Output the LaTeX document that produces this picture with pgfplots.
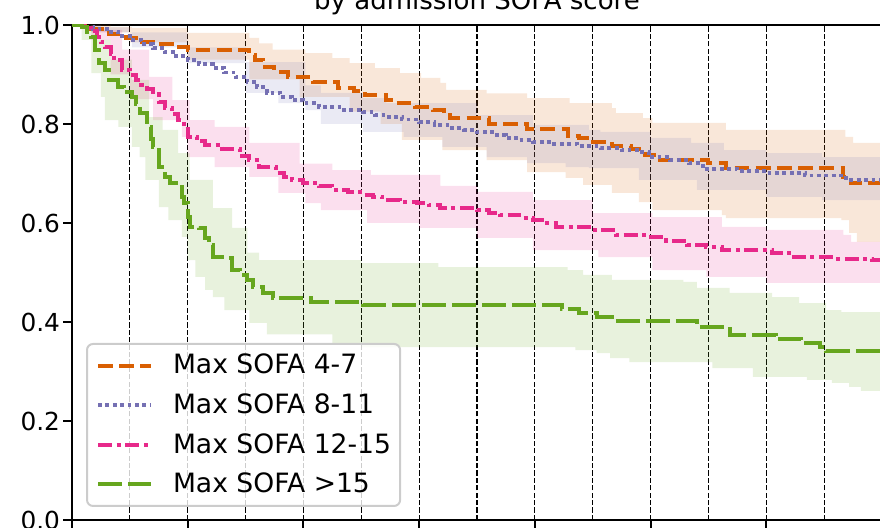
\documentclass[border=0pt]{standalone}
\usepackage{fontspec}
\setmainfont{DejaVu Sans}
\usepackage{pgfplots}
\usepackage{pgfplotstable}
\pgfplotsset{compat=1.18}
\usepgfplotslibrary{fillbetween}

\definecolor{cOr}{HTML}{D95F02}
\definecolor{cBl}{HTML}{7570B3}
\definecolor{cPk}{HTML}{E7298A}
\definecolor{cGr}{HTML}{66A61E}

% survival curves (days, S)
\pgfplotstableread{
t s
0 1.000
10 0.992
19 0.982
28 0.974
35 0.966
42 0.962
52 0.956
60 0.950
92 0.940
95 0.930
99 0.915
105 0.905
112 0.895
125 0.885
138 0.872
146 0.866
152 0.859
163 0.848
168 0.842
178 0.834
187 0.828
193 0.818
196 0.812
216 0.800
236 0.790
257 0.776
263 0.772
268 0.764
280 0.756
290 0.750
297 0.737
302 0.727
330 0.722
339 0.711
400 0.693
404 0.681
420 0.673
}\orS
\pgfplotstableread{
t s
0 1.000
20 0.996
31 0.994
60 0.984
92 0.974
97 0.963
104 0.950
121 0.943
135 0.933
144 0.923
157 0.913
170 0.903
181 0.893
191 0.883
194 0.869
215 0.862
236 0.852
258 0.842
280 0.832
282 0.822
296 0.812
301 0.802
339 0.788
401 0.774
405 0.762
420 0.762
}\orU
\pgfplotstableread{
t s
0 1.000
10 0.985
30 0.965
60 0.930
92 0.890
118 0.855
144 0.825
160 0.800
171 0.768
192 0.747
215 0.727
236 0.703
256 0.691
265 0.677
280 0.661
294 0.642
301 0.626
337 0.616
339 0.610
399 0.606
403 0.580
407 0.562
420 0.562
}\orL

\pgfplotstableread{
t s
0 1.000
5 0.997
11 0.992
18 0.986
24 0.978
30 0.970
36 0.962
42 0.954
48 0.946
54 0.937
60 0.929
66 0.921
73 0.913
79 0.904
85 0.895
91 0.885
96 0.874
101 0.863
108 0.855
114 0.848
120 0.842
128 0.834
140 0.828
151 0.824
157 0.818
163 0.814
171 0.809
180 0.804
188 0.798
196 0.792
203 0.788
210 0.784
218 0.778
225 0.772
232 0.768
239 0.764
250 0.760
262 0.755
274 0.751
285 0.747
294 0.743
299 0.733
310 0.727
320 0.721
327 0.709
345 0.705
360 0.701
380 0.696
399 0.691
403 0.687
420 0.683
}\blS
\pgfplotstableread{
t s
0 1.000
15 0.995
30 0.985
60 0.955
90 0.925
121 0.878
129 0.863
151 0.852
163 0.842
210 0.818
239 0.798
268 0.788
274 0.784
300 0.772
321 0.762
338 0.747
360 0.741
389 0.733
420 0.723
}\blU
\pgfplotstableread{
t s
0 1.000
10 0.985
31 0.955
60 0.923
90 0.863
107 0.842
121 0.828
129 0.800
151 0.784
172 0.774
192 0.754
215 0.733
236 0.721
256 0.713
268 0.711
294 0.687
324 0.667
360 0.653
389 0.646
420 0.636
}\blL

\pgfplotstableread{
t s
0 1.000
6 0.994
10 0.988
13 0.975
15 0.965
17 0.956
20 0.942
22 0.929
26 0.909
30 0.899
33 0.889
36 0.879
39 0.870
42 0.860
45 0.845
48 0.832
52 0.820
55 0.808
58 0.790
60 0.774
65 0.765
69 0.758
78 0.750
87 0.735
92 0.727
97 0.713
106 0.701
110 0.693
114 0.687
120 0.681
128 0.674
135 0.667
143 0.662
151 0.657
156 0.652
161 0.646
170 0.643
179 0.640
185 0.636
191 0.630
210 0.626
216 0.621
222 0.616
232 0.611
239 0.606
245 0.599
251 0.592
270 0.586
282 0.576
298 0.572
308 0.564
319 0.556
329 0.552
337 0.545
363 0.539
372 0.531
396 0.528
415 0.525
420 0.525
}\pkS
\pgfplotstableread{
t s
0 1.000
10 0.990
26 0.950
40 0.895
52 0.848
61 0.808
74 0.794
92 0.762
118 0.720
135 0.707
155 0.697
191 0.675
210 0.663
239 0.646
270 0.620
301 0.612
337 0.592
360 0.586
400 0.576
404 0.562
420 0.562
}\pkU
\pgfplotstableread{
t s
0 1.000
10 0.970
20 0.900
30 0.850
42 0.808
57 0.774
60 0.733
74 0.713
92 0.693
107 0.661
121 0.640
129 0.626
153 0.600
180 0.590
210 0.570
239 0.545
273 0.531
301 0.505
329 0.491
360 0.479
420 0.475
}\pkL

\pgfplotstableread{
t s
0 1.000
5 0.996
8 0.985
10 0.976
12 0.950
14 0.923
17 0.909
19 0.889
24 0.875
27 0.865
31 0.855
33 0.840
35 0.822
39 0.794
41 0.770
42 0.754
45 0.713
48 0.693
51 0.681
54 0.673
57 0.653
58 0.640
60 0.612
61 0.592
66 0.590
69 0.570
71 0.555
73 0.531
80 0.529
83 0.505
87 0.495
91 0.485
94 0.471
99 0.459
104 0.448
124 0.440
151 0.434
254 0.426
263 0.418
272 0.410
280 0.402
324 0.390
341 0.374
365 0.366
378 0.358
388 0.349
391 0.341
420 0.341
}\grS
\pgfplotstableread{
t s
0 1.000
12 0.970
20 0.930
31 0.889
40 0.814
47 0.788
55 0.741
61 0.687
73 0.630
83 0.590
91 0.540
97 0.525
150 0.519
190 0.511
254 0.511
257 0.505
265 0.495
280 0.485
317 0.481
324 0.469
341 0.459
363 0.450
377 0.438
391 0.424
399 0.420
420 0.414
}\grU
\pgfplotstableread{
t s
0 1.000
5 0.970
10 0.903
15 0.855
17 0.808
24 0.794
31 0.754
35 0.733
38 0.687
45 0.632
50 0.606
57 0.572
60 0.525
64 0.491
69 0.465
73 0.450
79 0.424
92 0.398
101 0.375
135 0.358
150 0.349
261 0.343
272 0.337
279 0.327
289 0.319
332 0.307
353 0.289
381 0.283
394 0.277
403 0.269
409 0.261
420 0.261
}\grL

\begin{document}
\begin{tikzpicture}
\begin{axis}[
    at={(36pt,4pt)}, anchor=south west,
    scale only axis, width=405pt, height=247.5pt,
    xmin=0, xmax=420, ymin=0, ymax=1,
    xtick={0,60,...,420}, minor xtick={30,90,...,390},
    xticklabels={},
    ytick={0,0.2,0.4,0.6,0.8,1},
    yticklabels={0.0,0.2,0.4,0.6,0.8,1.0},
    /pgf/number format/assume math mode=true,
    tick pos=left, tick align=outside,
    major tick length=4.3pt, minor tick length=0pt,
    axis line style={line width=1pt},
    every tick/.style={black, line width=1pt},
    yticklabel style={font=\fontsize{12.4pt}{14pt}\selectfont, anchor=east, inner sep=0pt, xshift=-1.5pt},
    xmajorgrids, xminorgrids,
    major grid style={black, line width=0.55pt, dash pattern=on 2.6pt off 1.1pt},
    minor grid style={black, line width=0.55pt, dash pattern=on 2.6pt off 1.1pt},
    title={by admission SOFA score},
    title style={at={(0.5,1)}, anchor=base, yshift=1.5pt, inner sep=0pt,
                 font=\fontsize{13pt}{15pt}\selectfont},
    legend cell align=left,
    legend image code/.code={\draw[#1] (0pt,0pt) -- (26.5pt,0pt);},
    legend style={at={(0.0173,0.3576)}, anchor=north west,
                  draw=black!20, line width=1pt, rounded corners=3pt,
                  fill=white, fill opacity=0.8, text opacity=1, draw opacity=1,
                  inner xsep=4.5pt, inner ysep=4pt, row sep=6.2pt,
                  font=\fontsize{13.3pt}{15pt}\selectfont,
                  nodes={inner sep=0pt, text height=11pt, text depth=2.6pt},
                  /tikz/every odd column/.append style={column sep=10pt}},
  ]
  % confidence bands
  \addplot[const plot, draw=none, name path=oU, forget plot] table[x=t,y=s]{\orU};
  \addplot[const plot, draw=none, name path=oL, forget plot] table[x=t,y=s]{\orL};
  \addplot[cOr, fill opacity=0.15, draw=none, forget plot] fill between[of=oU and oL];
  \addplot[const plot, draw=none, name path=bU, forget plot] table[x=t,y=s]{\blU};
  \addplot[const plot, draw=none, name path=bL, forget plot] table[x=t,y=s]{\blL};
  \addplot[cBl, fill opacity=0.15, draw=none, forget plot] fill between[of=bU and bL];
  \addplot[const plot, draw=none, name path=pU, forget plot] table[x=t,y=s]{\pkU};
  \addplot[const plot, draw=none, name path=pL, forget plot] table[x=t,y=s]{\pkL};
  \addplot[cPk, fill opacity=0.15, draw=none, forget plot] fill between[of=pU and pL];
  \addplot[const plot, draw=none, name path=gU, forget plot] table[x=t,y=s]{\grU};
  \addplot[const plot, draw=none, name path=gL, forget plot] table[x=t,y=s]{\grL};
  \addplot[cGr, fill opacity=0.15, draw=none, forget plot] fill between[of=gU and gL];
  % survival curves
  \addplot[const plot, cOr, line width=2pt, dash pattern=on 7.4pt off 3.2pt] table[x=t,y=s]{\orS};
  \addlegendentry{Max SOFA 4-7}
  \addplot[const plot, cBl, line width=1.9pt, dash pattern=on 1.9pt off 1.8pt] table[x=t,y=s]{\blS};
  \addlegendentry{Max SOFA 8-11}
  \addplot[const plot, cPk, line width=2pt, dash pattern=on 7pt off 2.3pt on 2pt off 2.3pt] table[x=t,y=s]{\pkS};
  \addlegendentry{Max SOFA 12-15}
  \addplot[const plot, cGr, line width=2pt, dash pattern=on 12pt off 3pt] table[x=t,y=s]{\grS};
  \addlegendentry{Max SOFA >15}
\end{axis}
\pgfresetboundingbox
\path[use as bounding box] (0,0) rectangle (440pt,264pt);
\end{tikzpicture}
\end{document}
